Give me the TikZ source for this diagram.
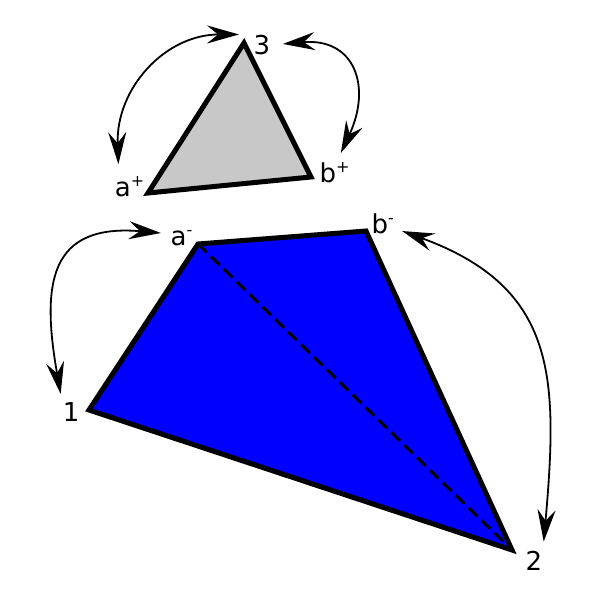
\documentclass[tikz,border=0pt]{standalone}
\usepackage{fontspec}
\setmainfont{DejaVu Sans}
\usetikzlibrary{positioning,arrows.meta}
\definecolor{facegray}{RGB}{200,200,200}
\definecolor{faceblue}{RGB}{0,0,255}
\tikzstyle{vlabel} = [draw=none, fill=none, inner sep=0.5pt, text centered, font=\fontsize{26}{31}\selectfont]
\tikzstyle{face}   = [draw, line width=5pt, line join=miter]
\tikzstyle{diag}   = [draw, line width=3pt, dash pattern=on 12pt off 6pt]
\tikzstyle{glue}   = [draw, line width=1.8pt, {Stealth[length=32pt,width=18pt,inset=11pt]}-{Stealth[length=32pt,width=18pt,inset=11pt]}]
\newcommand{\sgn}[1]{\raisebox{0.38em}{\fontsize{16}{16}\selectfont #1}}

\begin{document}
\begin{tikzpicture}[x=1pt, y=1pt]
	\useasboundingbox (0,0) rectangle (600,-599);
	% corners
	\coordinate (v3)  at (244,-43);
	\coordinate (vap) at (148,-193);
	\coordinate (vbp) at (311,-177);
	\coordinate (vam) at (198,-244);
	\coordinate (vbm) at (366,-231);
	\coordinate (v1)  at (89,-410);
	\coordinate (v2)  at (512,-550);

	% faces
	\path [face, fill=facegray] (v3) -- (vbp) -- (vap) -- cycle;
	\path [face, fill=faceblue] (v1) -- (vam) -- (vbm) -- (v2) -- cycle;
	\path [diag] (vam) -- (v2);

	% place labels
	\node [vlabel, right=9pt of v3, yshift=-2pt]  (l3)  {3};
	\node [vlabel, left=3pt of vap, yshift=6pt]   (lap) {a\sgn{+}};
	\node [vlabel, right=8pt of vbp, yshift=4pt]  (lbp) {b\sgn{+}};
	\node [vlabel, left=5pt of vam, yshift=6pt]   (lam) {a\sgn{-}};
	\node [vlabel, right=5pt of vbm, yshift=7pt]  (lbm) {b\sgn{-}};
	\node [vlabel, left=9pt of v1, yshift=-2pt]   (l1)  {1};
	\node [vlabel, right=13pt of v2, yshift=-11pt] (l2) {2};

	% draw gluing arrows
	\path [glue, shorten <=12pt, shorten >=14pt, looseness=1.15] (lap.135) to [out=92, in=180] (l3.north west);
	\path [glue, shorten <=12pt, shorten >=10pt, looseness=1.6] (l3.east) to [out=5, in=65] (lbp.80);
	\path [glue, shorten <=8pt, shorten >=9pt, looseness=1.55] (l1.north west) to [out=100, in=175] (lam.160);
	\path [glue, shorten <=8pt, shorten >=9pt, looseness=1.25] (lbm.-20) to [out=-20, in=85] (l2.north east);
\end{tikzpicture}
\end{document}
